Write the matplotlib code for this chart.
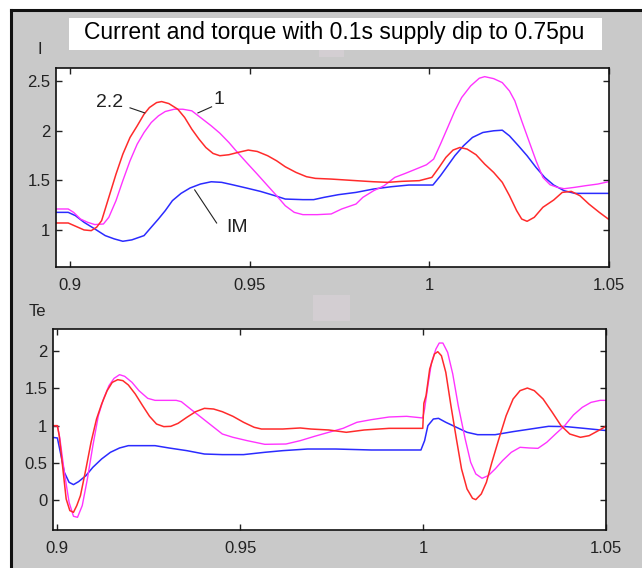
import matplotlib
matplotlib.use("Agg")
import matplotlib.pyplot as plt
from matplotlib.patches import Rectangle
from matplotlib.lines import Line2D

plt.rcParams['font.family'] = ['Liberation Sans', 'DejaVu Sans']

W, H = 642, 568

# ---- stator current, top panel ----
t_i_22 = [0.8961, 0.8995, 0.9039, 0.9059, 0.9074, 0.9088, 0.9108, 0.9128, 0.9147, 0.9167,
          0.9187, 0.9206, 0.9221, 0.9241, 0.9255, 0.9275, 0.9300, 0.9319, 0.9339, 0.9359,
          0.9378, 0.9398, 0.9417, 0.9442, 0.9467, 0.9496, 0.9521, 0.9550, 0.9575, 0.9599,
          0.9629, 0.9658, 0.9683, 0.9727, 0.9796, 0.9845, 0.9884, 0.9923, 0.9972, 1.0007,
          1.0027, 1.0046, 1.0066, 1.0085, 1.0105, 1.0130, 1.0154, 1.0179, 1.0203, 1.0223,
          1.0243, 1.0257, 1.0272, 1.0292, 1.0316, 1.0346, 1.0370, 1.0395, 1.0419, 1.0444,
          1.0473, 1.0498]
i_22 = [1.070, 1.070, 1.000, 0.993, 1.027, 1.094, 1.328, 1.562, 1.763, 1.931,
        2.048, 2.165, 2.232, 2.282, 2.292, 2.272, 2.215, 2.132, 2.014, 1.914,
        1.830, 1.770, 1.747, 1.757, 1.780, 1.804, 1.790, 1.747, 1.696, 1.636,
        1.579, 1.536, 1.519, 1.512, 1.496, 1.485, 1.479, 1.489, 1.496, 1.529,
        1.629, 1.730, 1.804, 1.830, 1.814, 1.757, 1.663, 1.579, 1.479, 1.345,
        1.194, 1.110, 1.087, 1.127, 1.228, 1.301, 1.378, 1.388, 1.345, 1.261,
        1.177, 1.110]

t_i_1 = [0.8961, 0.8995, 0.9010, 0.9029, 0.9049, 0.9069, 0.9093, 0.9108, 0.9128, 0.9147,
         0.9167, 0.9187, 0.9206, 0.9226, 0.9246, 0.9265, 0.9290, 0.9314, 0.9339, 0.9363,
         0.9393, 0.9417, 0.9442, 0.9462, 0.9491, 0.9521, 0.9550, 0.9575, 0.9599, 0.9624,
         0.9648, 0.9688, 0.9727, 0.9756, 0.9796, 0.9815, 0.9845, 0.9874, 0.9904, 0.9933,
         0.9963, 0.9992, 1.0012, 1.0031, 1.0051, 1.0071, 1.0090, 1.0115, 1.0139, 1.0154,
         1.0179, 1.0203, 1.0223, 1.0238, 1.0257, 1.0277, 1.0297, 1.0316, 1.0336, 1.0356,
         1.0375, 1.0405, 1.0434, 1.0469, 1.0498]
i_1 = [1.211, 1.211, 1.177, 1.110, 1.077, 1.054, 1.060, 1.127, 1.295, 1.496,
       1.696, 1.864, 1.981, 2.081, 2.148, 2.192, 2.215, 2.215, 2.199, 2.132,
       2.048, 1.974, 1.881, 1.797, 1.680, 1.562, 1.445, 1.345, 1.244, 1.177,
       1.154, 1.154, 1.161, 1.211, 1.261, 1.328, 1.395, 1.445, 1.529, 1.569,
       1.613, 1.656, 1.713, 1.864, 2.031, 2.199, 2.333, 2.450, 2.527, 2.543,
       2.523, 2.483, 2.399, 2.299, 2.098, 1.897, 1.696, 1.529, 1.455, 1.429,
       1.415, 1.429, 1.445, 1.462, 1.485]

t_i_im = [0.8961, 0.8995, 0.9015, 0.9039, 0.9069, 0.9098, 0.9123, 0.9147, 0.9172, 0.9206,
          0.9226, 0.9246, 0.9265, 0.9285, 0.9309, 0.9334, 0.9363, 0.9393, 0.9422, 0.9452,
          0.9491, 0.9530, 0.9570, 0.9599, 0.9648, 0.9678, 0.9707, 0.9747, 0.9796, 0.9845,
          0.9894, 0.9943, 1.0010, 1.0031, 1.0051, 1.0071, 1.0095, 1.0120, 1.0149, 1.0179,
          1.0203, 1.0223, 1.0248, 1.0272, 1.0297, 1.0321, 1.0346, 1.0375, 1.0405, 1.0434,
          1.0498]
i_im = [1.177, 1.177, 1.144, 1.077, 1.010, 0.943, 0.910, 0.886, 0.900, 0.943,
        1.027, 1.110, 1.194, 1.295, 1.368, 1.422, 1.462, 1.485, 1.479, 1.455,
        1.422, 1.388, 1.345, 1.311, 1.305, 1.305, 1.328, 1.355, 1.378, 1.412,
        1.435, 1.452, 1.452, 1.546, 1.646, 1.747, 1.847, 1.931, 1.981, 1.998,
        2.004, 1.947, 1.847, 1.747, 1.629, 1.529, 1.452, 1.395, 1.368, 1.368,
        1.368]

# ---- electrical torque, bottom panel ----
t_te_22 = [0.8985, 0.9000, 0.9005, 0.9015, 0.9024, 0.9034, 0.9044, 0.9053, 0.9063, 0.9078,
           0.9092, 0.9107, 0.9121, 0.9136, 0.9150, 0.9165, 0.9179, 0.9194, 0.9213, 0.9233,
           0.9252, 0.9271, 0.9291, 0.9310, 0.9330, 0.9354, 0.9378, 0.9402, 0.9427, 0.9451,
           0.9480, 0.9509, 0.9538, 0.9558, 0.9616, 0.9664, 0.9693, 0.9742, 0.9790, 0.9839,
           0.9907, 0.9955, 0.9999, 1.0002, 1.0008, 1.0018, 1.0031, 1.0040, 1.0050, 1.0062,
           1.0076, 1.0091, 1.0105, 1.0120, 1.0135, 1.0144, 1.0159, 1.0173, 1.0188, 1.0207,
           1.0227, 1.0246, 1.0265, 1.0285, 1.0304, 1.0328, 1.0353, 1.0377, 1.0401, 1.0430,
           1.0454, 1.0479, 1.0503]
te_22 = [1.000, 1.000, 0.866, 0.420, 0.018, -0.138, -0.161, -0.071, 0.062, 0.420,
         0.777, 1.089, 1.290, 1.469, 1.580, 1.616, 1.603, 1.545, 1.424, 1.268,
         1.125, 1.022, 0.987, 0.991, 1.031, 1.112, 1.187, 1.232, 1.223, 1.187,
         1.125, 1.045, 0.978, 0.955, 0.955, 0.969, 0.955, 0.942, 0.911, 0.942,
         0.964, 0.964, 0.964, 1.300, 1.402, 1.759, 1.960, 1.991, 1.937, 1.714,
         1.268, 0.821, 0.420, 0.152, 0.027, 0.009, 0.085, 0.241, 0.509, 0.821,
         1.134, 1.357, 1.469, 1.504, 1.469, 1.357, 1.179, 1.000, 0.888, 0.844,
         0.866, 0.933, 1.000]

t_te_1 = [0.8985, 0.9000, 0.9007, 0.9019, 0.9032, 0.9044, 0.9055, 0.9068, 0.9082, 0.9097,
          0.9112, 0.9126, 0.9141, 0.9155, 0.9170, 0.9184, 0.9204, 0.9223, 0.9247, 0.9267,
          0.9325, 0.9339, 0.9364, 0.9393, 0.9422, 0.9451, 0.9480, 0.9519, 0.9567, 0.9625,
          0.9664, 0.9703, 0.9742, 0.9781, 0.9819, 0.9858, 0.9907, 0.9955, 0.9999, 1.0004,
          1.0013, 1.0023, 1.0035, 1.0044, 1.0054, 1.0067, 1.0081, 1.0096, 1.0115, 1.0130,
          1.0144, 1.0161, 1.0178, 1.0197, 1.0217, 1.0241, 1.0265, 1.0290, 1.0314, 1.0338,
          1.0362, 1.0387, 1.0411, 1.0435, 1.0459, 1.0484, 1.0503]
te_1 = [1.000, 1.000, 0.821, 0.375, -0.027, -0.214, -0.228, -0.071, 0.286, 0.732,
        1.134, 1.357, 1.536, 1.634, 1.683, 1.661, 1.580, 1.469, 1.366, 1.339,
        1.339, 1.321, 1.223, 1.112, 1.000, 0.888, 0.844, 0.799, 0.750, 0.754,
        0.799, 0.857, 0.911, 0.964, 1.045, 1.080, 1.116, 1.125, 1.103, 1.223,
        1.536, 1.848, 2.027, 2.107, 2.107, 1.982, 1.692, 1.268, 0.821, 0.509,
        0.353, 0.295, 0.330, 0.420, 0.531, 0.643, 0.710, 0.701, 0.696, 0.777,
        0.888, 1.000, 1.143, 1.245, 1.312, 1.339, 1.339]

t_te_im = [0.8985, 0.9000, 0.9010, 0.9019, 0.9032, 0.9044, 0.9058, 0.9078, 0.9097, 0.9121,
           0.9145, 0.9170, 0.9194, 0.9228, 0.9267, 0.9305, 0.9354, 0.9402, 0.9451, 0.9509,
           0.9567, 0.9616, 0.9684, 0.9761, 0.9858, 0.9936, 0.9994, 1.0004, 1.0013, 1.0028,
           1.0042, 1.0062, 1.0091, 1.0120, 1.0149, 1.0197, 1.0246, 1.0294, 1.0343, 1.0391,
           1.0440, 1.0503]
te_im = [0.844, 0.835, 0.598, 0.375, 0.241, 0.210, 0.250, 0.330, 0.442, 0.554,
         0.643, 0.701, 0.732, 0.732, 0.732, 0.701, 0.665, 0.620, 0.612, 0.612,
         0.643, 0.665, 0.687, 0.687, 0.674, 0.674, 0.674, 0.799, 1.000, 1.089,
         1.098, 1.045, 0.978, 0.911, 0.879, 0.879, 0.920, 0.955, 0.991, 0.987,
         0.964, 0.933]

x_ticks = [0.9, 0.95, 1.0, 1.05]
x_ticklabels = ['0.9', '0.95', '1', '1.05']
i_yticks = [1, 1.5, 2, 2.5]
i_yticklabels = ['1', '1.5', '2', '2.5']
te_yticks = [0, 0.5, 1, 1.5, 2]
te_yticklabels = ['0', '0.5', '1', '1.5', '2']

title = 'Current and torque with 0.1s supply dip to 0.75pu'

RED = '#ff2b2b'
MAG = '#ff33ff'
BLUE = '#2b2bff'
GREY = '#c9c9c9'


def px_box(left, top, right, bottom):
    # pixel box (y measured from top) -> figure fraction [l, b, w, h]
    return [left / W, (H - bottom) / H, (right - left) / W, (bottom - top) / H]


fig = plt.figure(figsize=(W / 100, H / 100), dpi=100, facecolor='white')

# grey window background with dark frame on the left and top
fig.patches.append(Rectangle((11 / W, 0), 1 - 11 / W, (H - 10) / H,
                             transform=fig.transFigure, facecolor=GREY,
                             edgecolor='none', zorder=-3))
fig.add_artist(Line2D([11 / W, 11 / W], [0, (H - 10) / H], color='#111111', lw=2.2, zorder=-1))
fig.add_artist(Line2D([11 / W, 1], [(H - 10) / H, (H - 10) / H], color='#111111', lw=2.2, zorder=-1))

# faint leftover patches on the window
fig.patches.append(Rectangle((313 / W, (H - 321) / H), 37 / W, 26 / H,
                             transform=fig.transFigure, facecolor='#d3ced2',
                             edgecolor='none', zorder=-2))
fig.patches.append(Rectangle((319 / W, (H - 57) / H), 25 / W, 7 / H,
                             transform=fig.transFigure, facecolor='#d3ced2',
                             edgecolor='none', zorder=-2))

# title box
fig.patches.append(Rectangle((69 / W, (H - 50) / H), 533 / W, 32 / H,
                             transform=fig.transFigure, facecolor='white',
                             edgecolor='none', zorder=-1))
fig.text(334 / W, (H - 33) / H, title, ha='center', va='center', fontsize=16.5, zorder=3)


def style_axes(ax, xlim, ylim, yticks, yticklabels):
    ax.set_xlim(*xlim)
    ax.set_ylim(*ylim)
    ax.set_xticks(x_ticks)
    ax.set_xticklabels(x_ticklabels)
    ax.set_yticks(yticks)
    ax.set_yticklabels(yticklabels)
    ax.tick_params(direction='in', length=4, width=1, top=True, right=True,
                   labelsize=12, labelcolor='#222222', color='#222222')
    ax.tick_params(axis='x', pad=8)
    ax.tick_params(axis='y', pad=4)
    for s in ax.spines.values():
        s.set_linewidth(1.2)
        s.set_color('#111111')
    ax.set_facecolor('white')


# current
ax1 = fig.add_axes(px_box(56, 68, 609, 267))
ax1.plot(t_i_im, i_im, color=BLUE, lw=1.1)
ax1.plot(t_i_1, i_1, color=MAG, lw=1.0)
ax1.plot(t_i_22, i_22, color=RED, lw=1.1)
style_axes(ax1, (0.8961, 1.05), (0.627, 2.63), i_yticks, i_yticklabels)

# curve labels with leader lines
ax1.text(0.9110, 2.279, '2.2', fontsize=14, ha='center', va='center', color='#222222')
ax1.plot([0.9167, 0.9208], [2.229, 2.178], color='#222222', lw=0.8)
ax1.text(0.9414, 2.309, '1', fontsize=14, ha='center', va='center', color='#222222')
ax1.plot([0.9394, 0.9356], [2.239, 2.178], color='#222222', lw=0.8)
ax1.text(0.9464, 1.020, 'IM', fontsize=14, ha='center', va='center', color='#222222')
ax1.plot([0.9408, 0.9347], [1.070, 1.403], color='#222222', lw=0.8)

fig.text(40 / W, (H - 50) / H, 'I', ha='center', va='center', fontsize=12, color='#222222')

# torque
ax2 = fig.add_axes(px_box(53, 329, 606, 530))
ax2.plot(t_te_im, te_im, color=BLUE, lw=1.1)
ax2.plot(t_te_1, te_1, color=MAG, lw=1.0)
ax2.plot(t_te_22, te_22, color=RED, lw=1.1)
style_axes(ax2, (0.8988, 1.05), (-0.398, 2.295), te_yticks, te_yticklabels)

fig.text(37 / W, (H - 312) / H, 'Te', ha='center', va='center', fontsize=12, color='#222222')

fig.savefig('out.png', dpi=100, facecolor=fig.get_facecolor())
